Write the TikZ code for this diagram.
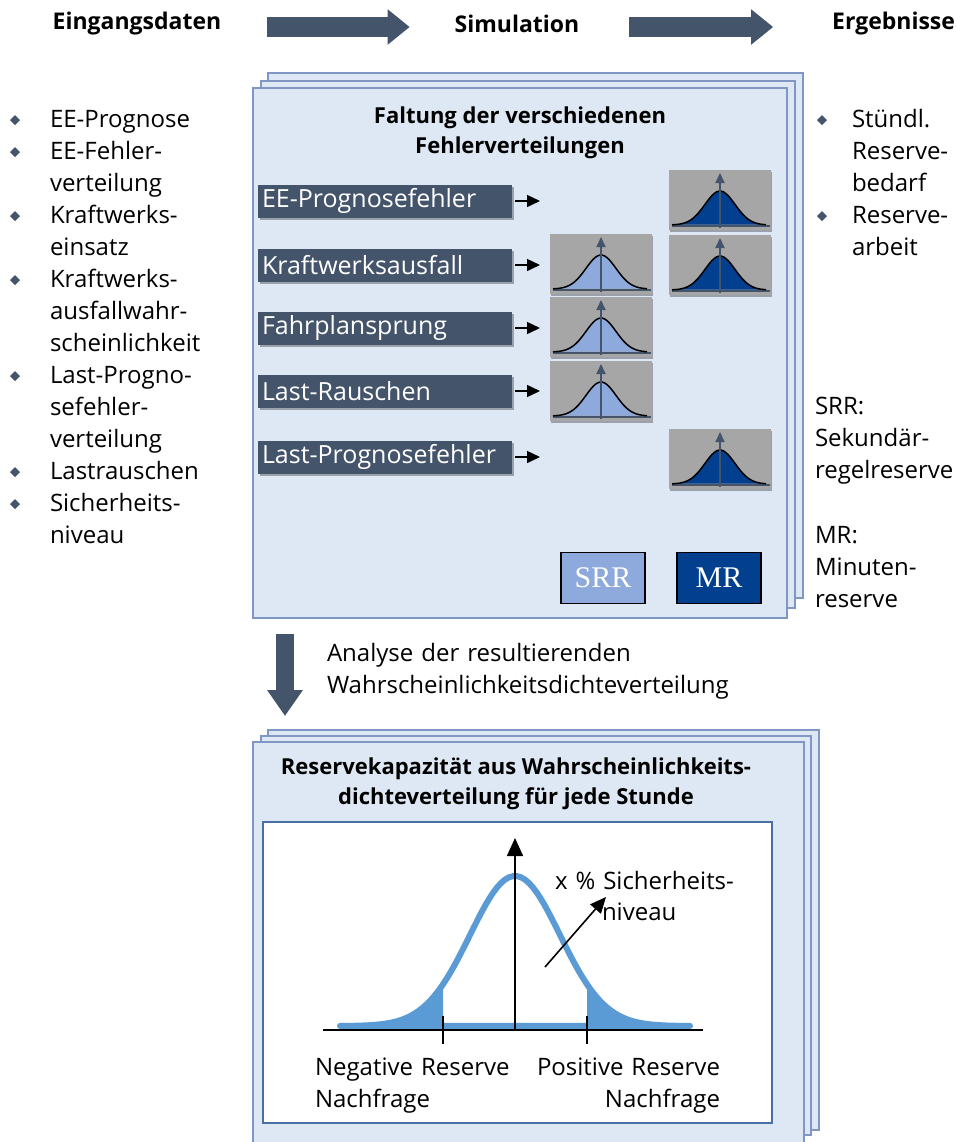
\documentclass[tikz,border=0pt]{standalone}
\usepackage{fontspec}
\setmainfont{Open Sans}
\newfontfamily\boxfont{Liberation Serif}
\usetikzlibrary{arrows.meta,positioning,shapes.geometric,shadows}

\definecolor{slate}{HTML}{44546A}
\definecolor{panelfill}{HTML}{DEE8F4}
\definecolor{panelline}{HTML}{7F97C2}
\definecolor{lightdist}{HTML}{8EA9DB}
\definecolor{darkdist}{HTML}{023F8E}
\definecolor{tilegray}{HTML}{A6A6A6}
\definecolor{bellblue}{HTML}{5B9BD5}
\definecolor{frameline}{HTML}{4A6FA5}

\begin{document}
\begin{tikzpicture}[x=0.5pt, y=-0.5pt,
  every node/.style={inner sep=0pt, outer sep=0pt},
  head/.style={font=\fontsize{11.5}{14}\bfseries\selectfont},
  title/.style={font=\fontsize{11}{15}\bfseries\selectfont, align=center},
  body/.style={font=\fontsize{12}{16}\selectfont, align=left, text width=#1},
  body/.default=120pt,
  bullet/.style={diamond, fill=slate, minimum size=5pt},
  bigarrow/.style={draw=slate, line width=10pt, -{Triangle[length=11pt,width=17pt]}},
  panel/.style={fill=panelfill, draw=panelline, line width=0.8pt},
  lbl/.style={fill=slate, text=white, font=\fontsize{12.5}{15}\selectfont, minimum height=16.5pt,
    text width=123pt, inner xsep=2pt, align=left,
    drop shadow={shadow xshift=0.8pt, shadow yshift=-1.2pt, fill=black, opacity=0.3}},
  feed/.style={line width=0.75pt, -{Triangle[length=6.5pt,width=6pt]}},
  tile/.style={fill=tilegray, minimum width=51pt, minimum height=30pt,
    drop shadow={shadow xshift=0.6pt, shadow yshift=-1pt, fill=black, opacity=0.3}},
  legend/.style={draw=black, line width=0.8pt, text=white, minimum width=42pt, minimum height=25.5pt,
    font=\boxfont\fontsize{15}{16}\selectfont},
  bell/.style={draw=bellblue, line width=3pt, line join=round},
  axis/.style={line width=0.8pt}
]
\useasboundingbox (0,0) rectangle (955,1142);
\clip (0,0) rectangle (955,1142);

\node[head] (in) at (137,24) {Eingangsdaten};
\node[head] (sim) at (517,24) {Simulation};
\node[head, anchor=east] (erg) at (955,24) {Ergebnisse};
\draw[bigarrow, shorten <=23pt, shorten >=22.5pt] ([yshift=-1.5pt]in.east) -- ([yshift=-1.5pt]sim.west);
\draw[bigarrow, shorten <=25pt, shorten >=29.5pt] ([yshift=-1.5pt]sim.east) -- ([yshift=-1.5pt]erg.west);

% Simulation
\foreach \xa/\ya/\xb/\yb in {268/73/803/598, 261/81/795/608, 253/88/787/618}
  \draw[panel] (\xa,\ya) rectangle (\xb,\yb);
\node[title] (falt) at (520,133) {Faltung der verschiedenen\\Fehlerverteilungen};

\foreach \nm/\y/\txt in {lee/201/EE-Prognosefehler, lkw/265/Kraftwerksausfall, lfp/328/Fahrplansprung,
    llr/391/Last-Rauschen, llp/457/Last-Prognosefehler} {
  \node[lbl, anchor=west] (\nm) at (258,\y) {\txt};
  \draw[feed] ([xshift=1.5pt]\nm.east) -- ([xshift=14pt]\nm.east);
}

\foreach \nm/\cx/\cy/\col in {tee/720/200/darkdist, tkw/601/264/lightdist, tkwm/720/265/darkdist,
    tfp/601/327/lightdist, tlr/601/391/lightdist, tlp/720/459/darkdist} {
  \node[tile] (\nm) at (\cx,\cy) {};
  \begin{scope}[shift={(\nm.center)}]
    \fill[\col] plot[domain=-46:46, samples=41] (\x,{25-34*exp(-0.5*(\x/15)*(\x/15))}) -- cycle;
    \draw[slate, line width=1.1pt] (-48,26) -- (50,26);
    \draw[line width=0.75pt] plot[domain=-48:46, samples=41] (\x,{25-34*exp(-0.5*(\x/15)*(\x/15))});
    \draw[slate, line width=1pt, -{Triangle[length=5pt,width=4.5pt]}] (0,28) -- (0,-27);
  \end{scope}
}

\node[legend, fill=lightdist] (srr) at (603,578) {SRR};
\node[legend, fill=darkdist, right=16pt of srr] (mr) {MR};

% Eingangsdaten
\foreach \nm/\y/\txt in {ein1/127/EE-Prognose, ein2/159/{EE-Fehler-\\verteilung}, ein3/223/{Kraftwerks-\\einsatz},
    ein4/287/{Kraftwerks-\\ausfallwahr-\\scheinlichkeit}, ein5/383/{Last-Progno-\\sefehler-\\verteilung},
    ein6/479/Lastrauschen, ein7/511/{Sicherheits-\\niveau}} {
  \node[body, anchor=base west] (\nm) at (50,\y) {\txt};
  \node[bullet] (\nm b) at (15,\y-7) {};
}

% Ergebnisse
\foreach \nm/\y/\txt in {erg1/127/{Stündl.\\Reserve-\\bedarf}, erg2/223/{Reserve-\\arbeit}} {
  \node[body=55pt, anchor=base west] (\nm) at (852,\y) {\txt};
  \node[bullet] (\nm b) at (822,\y-7) {};
}
\node[body=70pt, anchor=base west] (srrtxt) at (815,414) {SRR:\\Sekundär-\\regelreserve};
\node[body=70pt, anchor=base west] (mrtxt) at (815,543) {MR:\\Minuten-\\reserve};

\coordinate (down1) at (285,634);
\coordinate (down2) at (285,716);
\draw[bigarrow, line width=9pt, -{Triangle[length=13pt,width=17pt]}] (down1) -- (down2);
\node[body=220pt, anchor=base west] (analyse) at (327,661) {Analyse der resultierenden\\Wahrscheinlichkeitsdichteverteilung};

% Reservekapazitaet
\foreach \xa/\ya/\xb/\yb in {268/730/819/1130, 261/736/811/1135, 253/742/804/1160}
  \draw[panel] (\xa,\ya) rectangle (\xb,\yb);
\node[title] (resk) at (516,784) {Reservekapazität aus Wahrscheinlichkeits-\\dichteverteilung für jede Stunde};
\draw[draw=frameline, fill=white, line width=1pt] (263,822) rectangle (772,1123);

\fill[bellblue] plot[domain=340:443, samples=30] (\x,{1026-150*exp(-0.5*((\x-515)/45)*((\x-515)/45))}) -- (443,1026) -- cycle;
\fill[bellblue] plot[domain=587:690, samples=30] (\x,{1026-150*exp(-0.5*((\x-515)/45)*((\x-515)/45))}) -- (587,1026) -- cycle;
\draw[bell] plot[domain=340:690, samples=90] (\x,{1026-150*exp(-0.5*((\x-515)/45)*((\x-515)/45))}) -- cycle;

\coordinate (xa) at (323,1030);
\coordinate (xb) at (703,1030);
\coordinate (ya) at (515,1030);
\coordinate (yb) at (515,838);
\draw[axis] (xa) -- (xb);
\draw[axis, -{Triangle[length=9pt,width=8pt]}] (ya) -- (yb);
\foreach \t in {443,587}
  \draw[axis] (\t,1016) -- (\t,1044);

\coordinate (s1) at (545,967);
\coordinate (s2) at (606,897);
\draw[axis, -{Triangle[length=8pt,width=7pt]}] (s1) -- (s2);
\node[body=110pt, anchor=base west] (sich) at (555,889) {x \% Sicherheits-};
\node[body=50pt, anchor=base west] (niv) at (602,920) {niveau};

\node[body=110pt, anchor=base west] (neg) at (315,1075) {Negative Reserve\\Nachfrage};
\node[body=95pt, align=right, anchor=base east] (pos) at (720,1075) {Positive Reserve\\Nachfrage};
\end{tikzpicture}
\end{document}
